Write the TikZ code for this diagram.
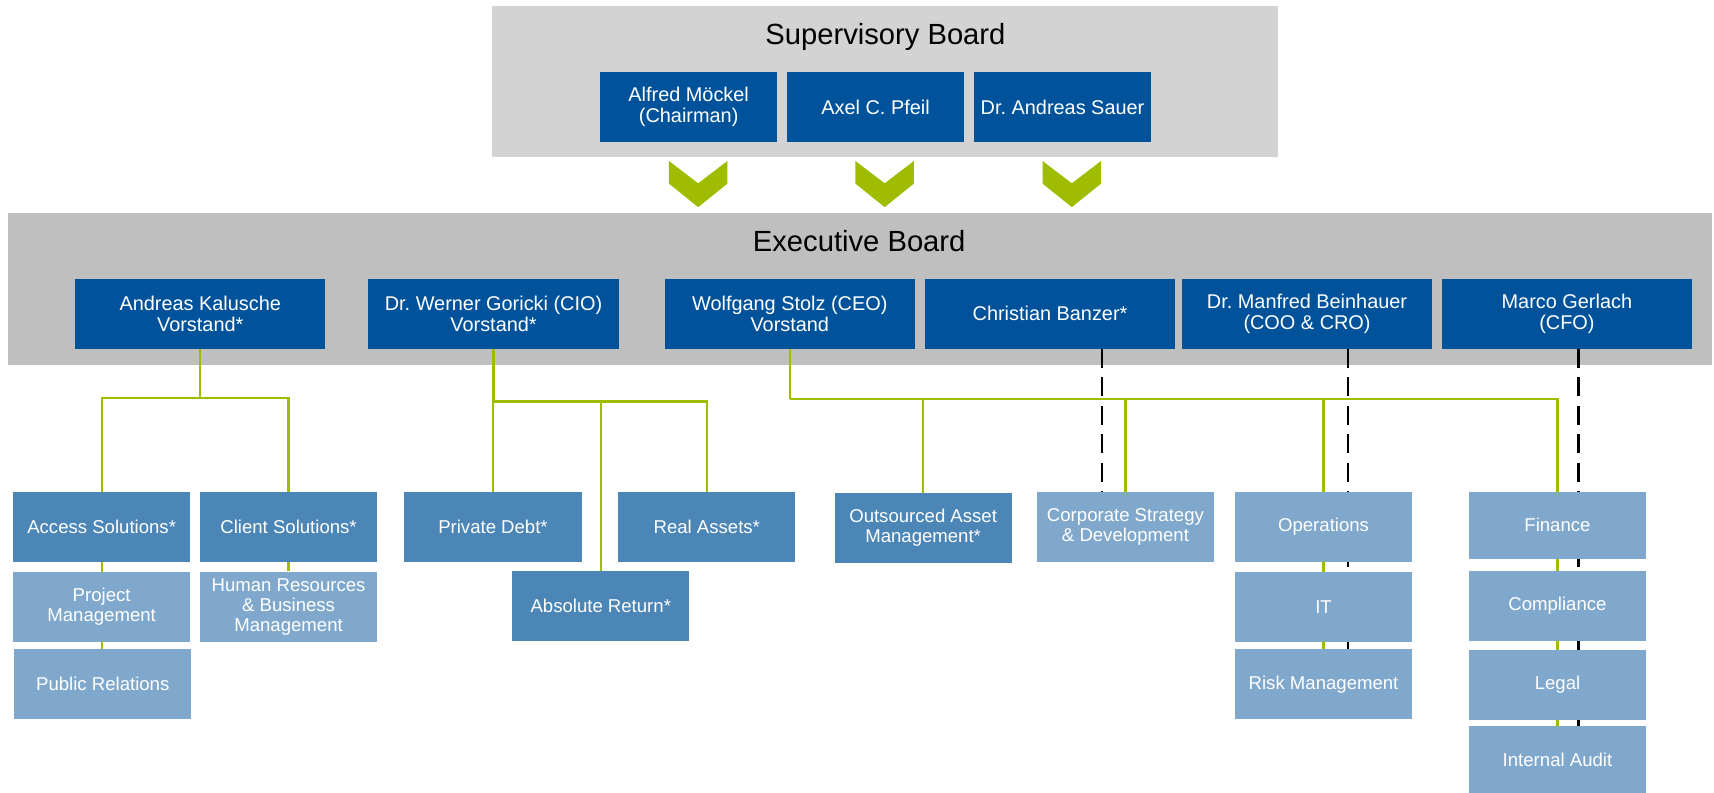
\documentclass[tikz,border=0pt]{standalone}
\usepackage{fontspec}
\setmainfont{Liberation Sans}
\usepackage{tikz}
\usetikzlibrary{positioning, calc}

\definecolor{boarddark}{HTML}{00539B}
\definecolor{unitmid}{HTML}{4B86B7}
\definecolor{unitlight}{HTML}{80A8CC}
\definecolor{linegreen}{HTML}{A0BC00}
\definecolor{supgray}{HTML}{D3D3D3}
\definecolor{exegray}{HTML}{BFBFBF}

\pgfdeclarelayer{panel}
\pgfdeclarelayer{wire}
\pgfsetlayers{panel,wire,main}

\frenchspacing

\tikzset{
  boardtitle/.style={inner sep=0pt, anchor=base, font=\fontsize{26.7}{30}\selectfont},
  person/.style={fill=boarddark, text=white, inner sep=0pt, align=center,
    minimum width=162pt, minimum height=64pt, font=\fontsize{18.2}{19.8}\selectfont},
  exec/.style={person, minimum width=229pt},
  unit/.style={text=white, inner sep=0pt, align=center,
    minimum width=162pt, minimum height=64pt, font=\fontsize{17}{18.4}\selectfont},
  midunit/.style={unit, fill=unitmid},
  lightunit/.style={unit, fill=unitlight},
  orgline/.style={draw=linegreen, line width=2.1pt},
  dotline/.style={draw=black, line width=2.4pt, dash pattern=on 17.4pt off 8.6pt},
  chevron/.style={fill=linegreen}
}

\begin{document}
\begin{tikzpicture}[x=1pt, y=-1pt]
                \useasboundingbox (0,0) rectangle (1568,725.4);

                % 背景パネル
                \begin{pgfonlayer}{panel}
                \fill[supgray] (450,5.5) rectangle (1169,144);
                \fill[exegray] (7.5,194.6) rectangle (1566,334);
                \end{pgfonlayer}

                % 監査役会
                \node[boardtitle] (suptitle) at (810,41) {Supervisory Board};
                \node[person] (moeckel) at (630,97.8) {Alfred Möckel\\(Chairman)};
                \node[person] (pfeil) at (801,97.8) {Axel C. Pfeil};
                \node[person] (sauer) at (972,97.8) {Dr. Andreas Sauer};

                % 矢印 (シェブロン)
                \foreach \cx in {638.7,809.3,980.5}
                    \fill[chevron] (\cx-26.7,147.3) -- (\cx,167.7) -- (\cx+26.7,147.3)
                        -- (\cx+26.7,168) -- (\cx,189.5) -- (\cx-26.7,168) -- cycle;

                % 取締役会
                \node[boardtitle] (exetitle) at (786,230.3) {Executive Board};
                \node[exec] (kalusche) at (183.2,287) {Andreas Kalusche\\Vorstand*};
                \node[exec] (goricki) at (451.5,287) {Dr. Werner Goricki (CIO)\\Vorstand*};
                \node[exec] (stolz) at (722.5,287) {Wolfgang Stolz (CEO)\\Vorstand};
                \node[exec] (banzer) at (960.6,287) {Christian Banzer*};
                \node[exec] (beinhauer) at (1195.7,287) {Dr. Manfred Beinhauer\\(COO \& CRO)};
                \node[exec] (gerlach) at (1433.4,287) {Marco Gerlach\\(CFO)};

                % 部門
                \node[midunit] (access) at (93,482) {Access Solutions*};
                \node[midunit] (client) at (264,482) {Client Solutions*};
                \node[lightunit] (projm) at (93,555) {Project\\Management};
                \node[lightunit] (hrbm) at (264,555) {Human Resources\\\& Business\\Management};
                \node[lightunit] (pubrel) at (94,626) {Public Relations};
                \node[midunit] (privdebt) at (451,482) {Private Debt*};
                \node[midunit] (realassets) at (646.6,482) {Real Assets*};
                \node[midunit] (absret) at (549.6,554.5) {Absolute Return*};
                \node[midunit] (outsourced) at (844.5,483) {Outsourced Asset\\Management*};
                \node[lightunit] (corpdev) at (1029.6,482) {Corporate Strategy\\\& Development};
                \node[lightunit] (ops) at (1210.8,482) {Operations};
                \node[lightunit] (itdept) at (1210.8,555) {IT};
                \node[lightunit] (risk) at (1210.8,626) {Risk Management};
                \node[lightunit, minimum height=61pt] (finance) at (1424.8,480.5) {Finance};
                \node[lightunit] (compl) at (1424.8,554.3) {Compliance};
                \node[lightunit] (legal) at (1424.8,626.4) {Legal};
                \node[lightunit, minimum height=63pt] (audit) at (1424.8,695.5) {Internal Audit};

                % 線 (パネルの上, 箱の下)
                \begin{pgfonlayer}{wire}
                \draw[orgline] (kalusche.south) -- ++(0,44.6) coordinate (kbus);
                \draw[orgline] (access.north) |- (kbus) -| (client.north);
                \draw[orgline] (access.south) -- (access.south |- pubrel.north);
                \draw[orgline] (client.south) -- (hrbm.north);

                \draw[orgline] (goricki.south) -- ++(0,48) coordinate (gbus);
                \draw[orgline] (privdebt.north) |- (gbus) -| (realassets.north);
                \draw[orgline] (absret.north) -- (absret.north |- gbus);

                \draw[orgline] (stolz.south) -- ++(0,45.8) coordinate (sbus);
                \draw[orgline] (sbus) -| (finance.north);
                \draw[orgline] (outsourced.north) -- (outsourced.north |- sbus);
                \draw[orgline] (corpdev.north) -- (corpdev.north |- sbus);
                \draw[orgline] (ops.north) -- (ops.north |- sbus);
                \draw[orgline] (ops.south) -- (risk.north);
                \draw[orgline] (finance.south) -- (audit.north);

                \draw[dotline] ([xshift=47.4pt]banzer.south) -- ([xshift=47.4pt]banzer.south |- corpdev.north);
                \draw[dotline] ([xshift=37.6pt]beinhauer.south) -- ([xshift=37.6pt]beinhauer.south |- risk.north);
                \draw[dotline] ([xshift=10.6pt]gerlach.south) -- ([xshift=10.6pt]gerlach.south |- audit.north);
                \end{pgfonlayer}
            \end{tikzpicture}
\end{document}
